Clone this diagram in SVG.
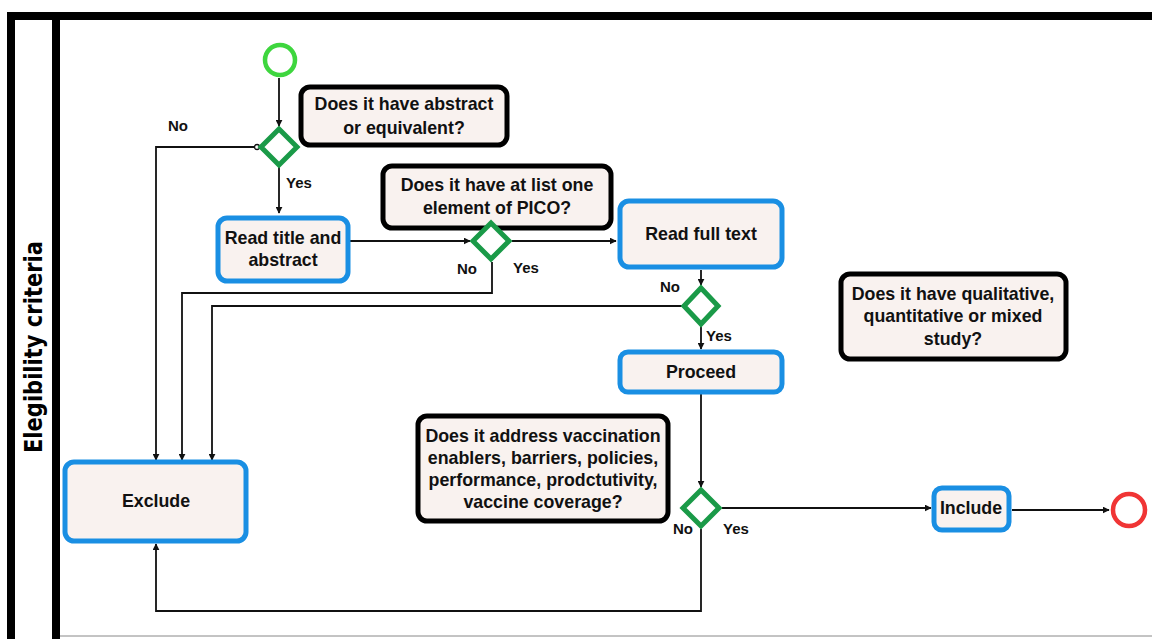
<svg xmlns="http://www.w3.org/2000/svg" width="1152" height="639" viewBox="0 0 1152 639">
<style>
.q{fill:#f9f2ef;stroke:#000;stroke-width:5}
.a{fill:#f9f2ef;stroke:#1a8fe3;stroke-width:5}
.d{fill:#fff;stroke:#1a9a48;stroke-width:5}
.t{font-family:"Liberation Sans",Arial,sans-serif;font-weight:bold;font-size:17.8px;fill:#111;text-anchor:middle}
.l{font-family:"Liberation Sans",Arial,sans-serif;font-weight:bold;font-size:15px;fill:#111}
.c{fill:none;stroke:#111;stroke-width:1.8}
</style>
<defs>
<marker id="ar" viewBox="0 0 10 10" refX="9" refY="5" markerWidth="7" markerHeight="7" markerUnits="userSpaceOnUse" orient="auto"><path d="M0,0 L10,5 L0,10 z" fill="#111"/></marker>
</defs>
<rect x="0" y="0" width="1152" height="639" fill="#fff"/>
<g id="pool">
<path d="M11,639 L11,16 L1152,16" fill="none" stroke="#000" stroke-width="8"/>
<line x1="56" y1="16" x2="56" y2="639" stroke="#000" stroke-width="8"/>
<line x1="60" y1="636" x2="1152" y2="636" stroke="#888" stroke-width="1"/>
<text transform="translate(42,347) rotate(-90)" text-anchor="middle" font-family="'DejaVu Sans Condensed','Liberation Sans Narrow','Liberation Sans',sans-serif" font-weight="bold" font-size="24" textLength="212" lengthAdjust="spacingAndGlyphs" fill="#000">Elegibility criteria</text>
</g>
<g id="connectors">
<path class="c" d="M279,78 L279,126" marker-end="url(#ar)"/>
<path class="c" d="M256,147 L156,147 L156,460" marker-end="url(#ar)"/>
<circle cx="257" cy="147" r="2.5" fill="#fff" stroke="#111" stroke-width="1.3"/>
<path class="c" d="M279,167 L279,213" marker-end="url(#ar)"/>
<path class="c" d="M350,241 L470,241" marker-end="url(#ar)"/>
<path class="c" d="M512,241 L616,241" marker-end="url(#ar)"/>
<path class="c" d="M492,262 L492,293 L182,293 L182,460" marker-end="url(#ar)"/>
<path class="c" d="M701,270 L701,285" marker-end="url(#ar)"/>
<path class="c" d="M682,306 L212,306 L212,460" marker-end="url(#ar)"/>
<path class="c" d="M701,326 L701,349" marker-end="url(#ar)"/>
<path class="c" d="M701,394 L701,487" marker-end="url(#ar)"/>
<path class="c" d="M722,508 L931,508" marker-end="url(#ar)"/>
<path class="c" d="M701,529 L701,611 L156,611 L156,544" marker-end="url(#ar)"/>
<path class="c" d="M1012,510 L1109,510" marker-end="url(#ar)"/>
<text class="l" x="168" y="131">No</text>
<text class="l" x="286" y="188">Yes</text>
<text class="l" x="457" y="274">No</text>
<text class="l" x="513" y="273">Yes</text>
<text class="l" x="660" y="292">No</text>
<text class="l" x="706" y="341">Yes</text>
<text class="l" x="673" y="534">No</text>
<text class="l" x="723" y="534">Yes</text>
</g>
<g id="start"><circle cx="280" cy="60" r="15" fill="#fff" stroke="#3ed63e" stroke-width="4.5"/></g>
<g id="end"><circle cx="1129" cy="510" r="16" fill="#fff" stroke="#f03535" stroke-width="4.5"/></g>
<g id="q1"><rect class="q" x="301" y="87" width="206" height="58" rx="9"/><text class="t" x="404" y="110">Does it have abstract</text><text class="t" x="404" y="134">or equivalent?</text></g>
<g id="d1"><path class="d" d="M279,129 L297,147 L279,165 L261,147 z"/></g>
<g id="readTitle"><rect class="a" x="218" y="218" width="130" height="63" rx="9"/><text class="t" x="283" y="244">Read title and</text><text class="t" x="283" y="266">abstract</text></g>
<g id="q2"><rect class="q" x="383" y="166" width="228" height="62" rx="9"/><text class="t" x="497" y="191">Does it have at list one</text><text class="t" x="497" y="214">element of PICO?</text></g>
<g id="d2"><path class="d" d="M491,223 L509,241 L491,259 L473,241 z"/></g>
<g id="readFull"><rect class="a" x="620" y="201" width="162" height="66" rx="9"/><text class="t" x="701" y="240">Read full text</text></g>
<g id="d3"><path class="d" d="M701,288 L718,306 L701,324 L684,306 z"/></g>
<g id="proceed"><rect class="a" x="620" y="352" width="162" height="40" rx="8"/><text class="t" x="701" y="378">Proceed</text></g>
<g id="q4"><rect class="q" x="841" y="274" width="225" height="85" rx="9"/><text class="t" x="953" y="300">Does it have qualitative,</text><text class="t" x="953" y="322">quantitative or mixed</text><text class="t" x="953" y="345">study?</text></g>
<g id="q3"><rect class="q" x="418" y="416" width="250" height="105" rx="9"/><text class="t" x="543" y="442">Does it address vaccination</text><text class="t" x="543" y="464">enablers, barriers, policies,</text><text class="t" x="543" y="486">performance, prodctutivity,</text><text class="t" x="543" y="508">vaccine coverage?</text></g>
<g id="d4"><path class="d" d="M701,490 L719,508 L701,526 L683,508 z"/></g>
<g id="include"><rect class="a" x="934" y="488" width="75" height="42" rx="8"/><text class="t" x="971" y="514">Include</text></g>
<g id="exclude"><rect class="a" x="65" y="462" width="181" height="79" rx="9"/><text class="t" x="156" y="507">Exclude</text></g>
</svg>
